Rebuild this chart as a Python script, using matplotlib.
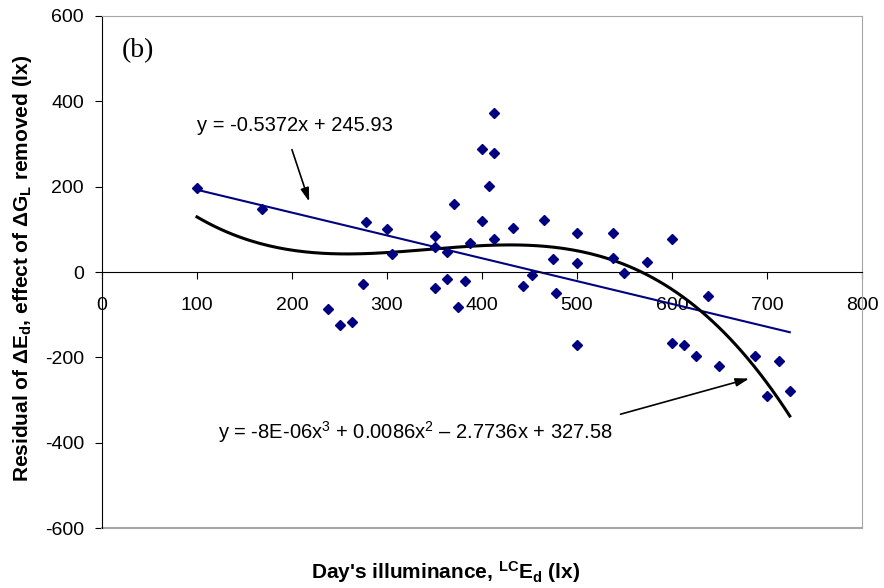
import numpy as np
import matplotlib.pyplot as plt

##### Data
illum = [100, 168, 238, 250, 263, 275, 278, 300, 305, 350, 350, 350,
         363, 363, 370, 375, 382, 387, 400, 400, 407, 413, 413, 413,
         433, 443, 453, 465, 475, 478, 500, 500, 500, 538, 538, 550,
         574, 600, 600, 613, 625, 638, 650, 687, 700, 713, 724]
resid = [198, 147, -87, -124, -116, -27, 118, 100, 42, 84, 59, -38,
         46, -16, 159, -83, -21, 69, 120, 288, 202, 280, 372, 77,
         103, -33, -6, 122, 30, -50, 91, 20, -172, 91, 32, -3,
         23, 78, -167, -172, -198, -56, -221, -198, -291, -209, -278]

lin_label = 'y = -0.5372x + 245.93'
cub_label = 'y = -8E-06x$^3$ + 0.0086x$^2$ \u2013 2.7736x + 327.58'

##### Style
plt.rcParams['font.family'] = 'Liberation Sans'
plt.rcParams['axes.unicode_minus'] = False
plt.rcParams['mathtext.fontset'] = 'custom'
plt.rcParams['mathtext.rm'] = 'Liberation Sans'
plt.rcParams['mathtext.it'] = 'Liberation Sans:italic'
plt.rcParams['mathtext.bf'] = 'Liberation Sans:bold'

fig = plt.figure(figsize=(8.84, 5.88), dpi=100)
ax = fig.add_axes([0.1154, 0.102, 0.8597, 0.8708])

x = np.array(illum, dtype=float)
y = np.array(resid, dtype=float)

##### Trendlines (fitted to the points, like the spreadsheet does)
xs = np.linspace(x.min(), x.max(), 200)
p1 = np.polyfit(x, y, 1)
p3 = np.polyfit(x, y, 3)
ax.plot(xs, np.polyval(p1, xs), color='#000080', lw=1.5, zorder=2)
ax.plot(xs, np.polyval(p3, xs), color='black', lw=2.2, zorder=3)

ax.plot(x, y, linestyle='none', marker='D', markersize=5.5,
        color='#000080', zorder=4)

##### Axes
ax.set_xlim(0, 800)
ax.set_ylim(-600, 600)
ax.set_xticks(np.arange(0, 801, 100))
ax.set_yticks(np.arange(-600, 601, 200))

ax.spines['bottom'].set_position(('data', 0))
ax.spines['bottom'].set_color('black')
ax.spines['left'].set_color('black')
ax.spines['top'].set_color('#a6a6a6')
ax.spines['right'].set_color('#a6a6a6')
ax.axhline(-600, color='#a6a6a6', lw=1.5, clip_on=False)

ax.tick_params(axis='x', direction='out', length=5, pad=13, labelsize=14)
ax.tick_params(axis='y', direction='out', length=5, pad=8, labelsize=14)

##### Annotations
ax.text(21, 520, '(b)', family='Liberation Serif', fontsize=20, va='center')
ax.text(100, 344, lin_label, fontsize=14.5, va='center')
ax.text(122, -375, cub_label, fontsize=14.5, va='center')

ax.annotate('', xy=(219, 159), xytext=(199, 293),
            arrowprops=dict(arrowstyle='-|>,head_length=0.8,head_width=0.25',
                            color='black', lw=1.2))
ax.annotate('', xy=(684, -248), xytext=(543, -335),
            arrowprops=dict(arrowstyle='-|>,head_length=0.8,head_width=0.25',
                            color='black', lw=1.2))

##### Axis labels
fig.text(0.5045, 0.027, "Day's illuminance, $^{\\mathbf{LC}}$E$_{\\mathbf{d}}$ (lx)",
         ha='center', va='center', fontsize=15, fontweight='bold')
fig.text(0.026, 0.544,
         'Residual of \u0394E$_{\\mathbf{d}}$, effect of \u0394G$_{\\mathbf{L}}$ removed (lx)',
         ha='center', va='center', rotation=90, fontsize=15, fontweight='bold')

plt.savefig('out.png', dpi=100)
